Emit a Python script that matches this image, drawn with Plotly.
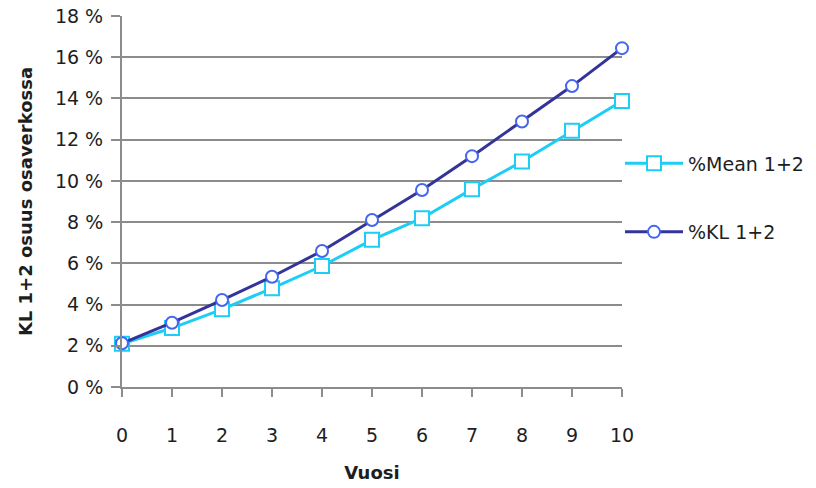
import plotly.graph_objects as go

# Year index and share of KL 1+2 in the sub-network (%)
years = [0, 1, 2, 3, 4, 5, 6, 7, 8, 9, 10]
mean_12 = [2.1, 2.86, 3.77, 4.79, 5.87, 7.14, 8.19, 9.6, 10.94, 12.43, 13.88]
kl_12 = [2.12, 3.12, 4.22, 5.35, 6.6, 8.1, 9.56, 11.2, 12.88, 14.6, 16.44]

y_ticks = [0, 2, 4, 6, 8, 10, 12, 14, 16, 18]

FONT = "DejaVu Sans"
GRID = "#8c8c8c"
TEXT = "#1e1e1e"

fig = go.Figure()

fig.add_trace(go.Scatter(
    x=years, y=mean_12, name="%Mean 1+2", mode="lines+markers",
    line=dict(color="#1ccdf5", width=3),
    marker=dict(symbol="square", size=14, color="white",
                line=dict(color="#1ccdf5", width=2)),
    cliponaxis=False, legendgroup="a",
))
fig.add_trace(go.Scatter(
    x=years, y=kl_12, name="%KL 1+2", mode="lines+markers",
    line=dict(color="#333399", width=3),
    marker=dict(symbol="circle", size=12, color="white",
                line=dict(color="#4466ee", width=2)),
    cliponaxis=False, legendgroup="b",
))

fig.update_layout(
    width=816, height=488,
    margin=dict(l=122, r=194, t=16, b=101, autoexpand=False),
    paper_bgcolor="white", plot_bgcolor="white",
    font=dict(family=FONT, size=19, color=TEXT),
    showlegend=True,
    legend=dict(x=0.996, xanchor="left", y=0.51, yanchor="middle",
                font=dict(family=FONT, size=19, color=TEXT),
                itemwidth=58, tracegroupgap=41, bgcolor="rgba(0,0,0,0)"),
    xaxis=dict(
        range=[0, 10], tickmode="array", tickvals=years,
        ticks="outside", ticklen=8, tickwidth=2, tickcolor=GRID,
        showline=True, linecolor=GRID, linewidth=2, automargin=False,
        showgrid=False, zeroline=False, ticklabelstandoff=22,
        title=dict(text="<b>Vuosi</b>", font=dict(family=FONT, size=18), standoff=22),
    ),
    yaxis=dict(
        range=[0, 18], tickmode="array", tickvals=y_ticks,
        ticktext=[f"{v} %" for v in y_ticks],
        ticks="outside", ticklen=9, tickwidth=2, tickcolor=GRID,
        showline=True, linecolor=GRID, linewidth=2, automargin=False,
        showgrid=True, gridcolor=GRID, gridwidth=2, zeroline=False,
        ticklabelstandoff=4,
        title=dict(text="<b>KL 1+2 osuus osaverkossa</b>",
                   font=dict(family=FONT, size=18), standoff=18),
    ),
)

fig.write_html("out.html")
